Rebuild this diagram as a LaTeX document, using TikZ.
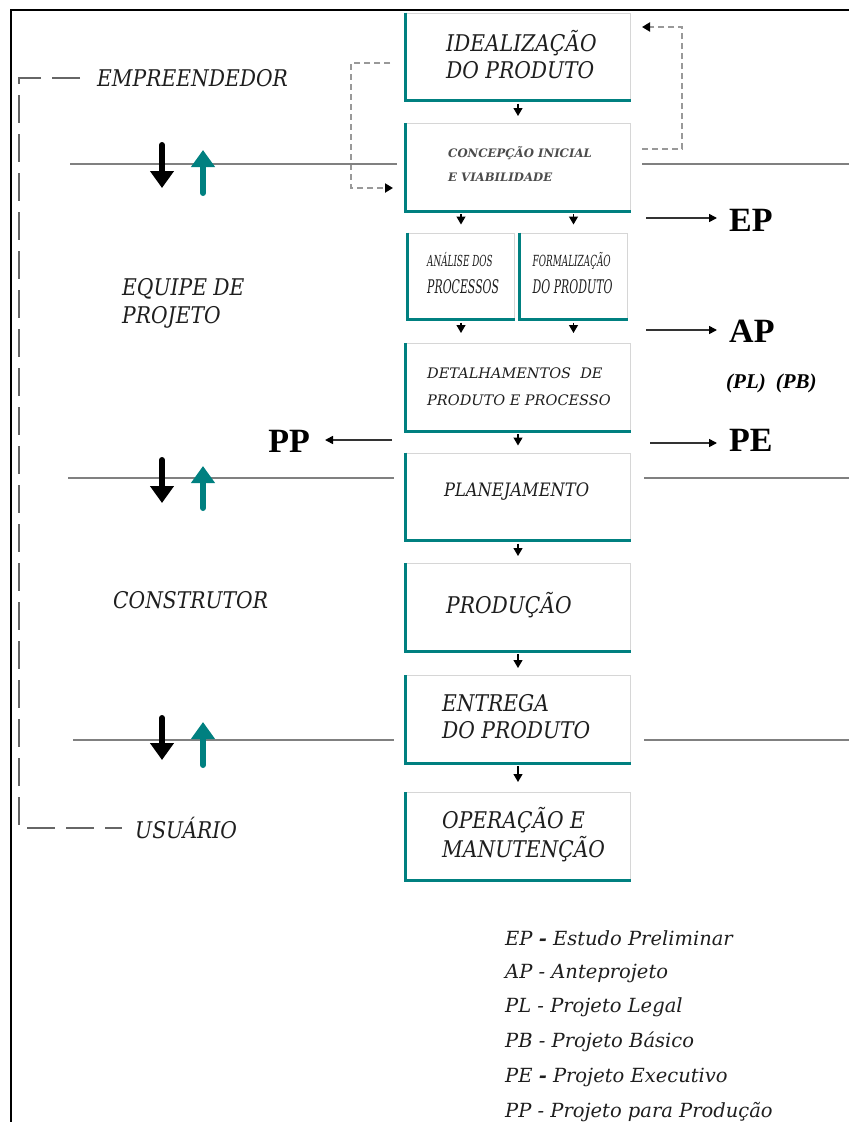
\documentclass[tikz,border=0pt]{standalone}
\usepackage{fontspec}
\usetikzlibrary{arrows.meta,calc}
\newfontfamily\slab[FakeStretch=0.88]{DejaVu Serif}
\newfontfamily\slabw{DejaVu Serif}
\newfontfamily\slabn[FakeStretch=0.58]{DejaVu Serif}
\newfontfamily\tnr{Liberation Serif}
\definecolor{tealc}{RGB}{0,128,128}
\definecolor{boxgray}{RGB}{214,214,214}
\definecolor{txt}{RGB}{30,30,30}
\begin{document}
\begin{tikzpicture}[x=1pt,y=-1pt,
  box/.style={draw=boxgray, line width=1pt, fill=white, inner sep=0pt},
  mainbox/.style={box, minimum width=225pt, minimum height=87pt},
  subbox/.style={box, minimum width=107pt, minimum height=86pt},
  boxtext/.style={inner sep=0pt, anchor=west, align=left, text=txt},
  bigtxt/.style={boxtext, font=\slab\itshape\fontsize{23}{27}\selectfont},
  lbl/.style={inner sep=0pt, text=txt, font=\slab\itshape\fontsize{23}{28}\selectfont, align=left},
  doc/.style={inner sep=0pt, text=black, font=\tnr\bfseries\fontsize{34}{36}\selectfont},
  legend/.style={inner sep=0pt, anchor=west, text=txt, font=\slabw\itshape\fontsize{19.5}{22}\selectfont},
  tealedge/.style={draw=tealc, line width=3pt},
  flow/.style={line width=1.2pt, shorten <=3pt, -{Triangle[width=9pt,length=8pt]}},
  thinarr/.style={draw=black!80, line width=1.6pt, -{Triangle[width=8pt,length=8pt,color=black]}},
  rail/.style={draw=black!50, line width=2.5pt},
  bigdown/.style={draw=black, line width=6pt, line cap=round, -{Triangle[width=23pt,length=17pt]}},
  bigup/.style={draw=tealc, line width=6pt, line cap=round, -{Triangle[width=23pt,length=17pt]}},
  fb/.style={draw=black!40, line width=2pt, dash pattern=on 6pt off 4pt, -{Triangle[width=9pt,length=8pt,color=black]}},
  bracket/.style={draw=black!60, line width=1.6pt, dash pattern=on 28pt off 11pt}]
\useasboundingbox (0,0) rectangle (849,1122);

% frame
\draw[line width=2.5pt] (11,1122) -- (11,10) -- (849,10);

% process boxes
\node[mainbox] (b1) at (518,56.5) {};
\node[mainbox] (b2) at (518,167) {};
\node[subbox] (ana) at (461,276) {};
\node[subbox] (form) at (573.5,276) {};
\node[mainbox] (det) at (518,387) {};
\node[mainbox] (plan) at (518,496.5) {};
\node[mainbox] (prod) at (518,607) {};
\node[mainbox] (ent) at (518,719) {};
\node[mainbox] (oper) at (518,836) {};

\foreach \n in {b1,b2,ana,form,det,plan,prod,ent,oper}
  \draw[tealedge] (\n.north west) -- (\n.south west) -- (\n.south east);

% box captions
\node[bigtxt] (b1t) at ($(b1.west)+(41,-1.5)$) {IDEALIZAÇÃO\\DO PRODUTO};
\node[boxtext, text=black!70, font=\slabw\bfseries\itshape\fontsize{11.7}{24}\selectfont] (b2t) at ($(b2.west)+(43,-3)$) {CONCEPÇÃO INICIAL\\E VIABILIDADE};
\node[boxtext, font=\slabn\itshape\fontsize{18.8}{27}\selectfont] (anat) at ($(ana.west)+(20,-2.5)$) {{\fontsize{15.2}{27}\selectfont ANÁLISE DOS}\\PROCESSOS};
\node[boxtext, font=\slabn\itshape\fontsize{18.8}{27}\selectfont] (formt) at ($(form.west)+(13,-2.5)$) {{\fontsize{15.3}{27}\selectfont FORMALIZAÇÃO}\\DO PRODUTO};
\node[boxtext, font=\slabw\itshape\fontsize{14.5}{27}\selectfont] (dett) at ($(det.west)+(22,-0.5)$) {DETALHAMENTOS\ \ DE\\PRODUTO E PROCESSO};
\node[boxtext, font=\slab\itshape\fontsize{18.5}{22}\selectfont] (plant) at ($(plan.west)+(39,-4.5)$) {PLANEJAMENTO};
\node[bigtxt] (prodt) at ($(prod.west)+(41,-2)$) {PRODUÇÃO};
\node[bigtxt] (entt) at ($(ent.west)+(37,-2.5)$) {ENTREGA\\DO PRODUTO};
\node[bigtxt, font=\slab\itshape\fontsize{23}{29}\selectfont] (opert) at ($(oper.west)+(37,-1)$) {OPERAÇÃO E\\MANUTENÇÃO};

% flow between boxes
\draw[flow, shorten >=7pt] (b1) -- (b2);
\draw[flow, shorten >=8pt] (b2.south -| ana) -- (ana);
\draw[flow, shorten >=8pt] (b2.south -| form) -- (form);
\draw[flow, shorten >=10pt] (ana) -- (ana |- det.north);
\draw[flow, shorten >=10pt] (form) -- (form |- det.north);
\draw[flow, shorten >=7pt] (det) -- (plan);
\draw[flow, shorten >=7pt] (plan) -- (prod);
\draw[flow, shorten >=7pt] (prod) -- (ent);
\draw[flow, shorten >=10pt] (ent) -- (oper);

% feedback loops
\draw[fb] ($(b1.west)+(-15,6.5)$) -- ++(-39,0) |- ($(b2.west)+(-12,21)$);
\draw[fb] ($(b2.east)+(11,-18)$) -- ++(40,0) |- ($(b1.east)+(11,-29.5)$);

% horizontal rails
\coordinate (l1) at (70,164);  \coordinate (r1) at (849,164);
\coordinate (l2) at (68,478);  \coordinate (r2) at (849,478);
\coordinate (l3) at (73,740);  \coordinate (r3) at (849,740);
\draw[rail, shorten >=8pt] (l1) -- (l1 -| b2.west);
\draw[rail, shorten <=11pt] (r1 -| b2.east) -- (r1);
\draw[rail, shorten >=11pt] (l2) -- (l2 -| plan.west);
\draw[rail, shorten <=13pt] (r2 -| plan.east) -- (r2);
\draw[rail, shorten >=11pt] (l3) -- (l3 -| ent.west);
\draw[rail, shorten <=13pt] (r3 -| ent.east) -- (r3);

% exchange arrows on the rails
\foreach \ya/\yb/\yc/\yd in {145/188/193/150, 460/503/508/466, 718/760/765/722} {
  \draw[bigdown] (162,\ya) -- (162,\yb);
  \draw[bigup] (203,\yc) -- (203,\yd);
}

% side labels
\node[lbl, anchor=west] (emp) at (97,78) {EMPREENDEDOR};
\node[lbl, anchor=west] (eq) at (122,303) {EQUIPE DE\\PROJETO};
\node[lbl, anchor=west] (con) at (113,600) {CONSTRUTOR};
\node[lbl, anchor=west] (usu) at (135,828) {USUÁRIO};
\draw[bracket] ($(emp.west)+(-17,0)$) -| ($(usu.west)+(-116,0)$) -- ($(usu.west)+(-13,0)$);

% project documents
\node[doc, anchor=west] (ep) at (729,220) {EP};
\node[doc, anchor=west] (ap) at (729,331) {AP};
\node[inner sep=0pt, anchor=west, font=\tnr\bfseries\itshape\fontsize{21}{24}\selectfont] (plpb) at (726,383) {(PL)\hspace{10pt}(PB)};
\node[doc, anchor=west] (pe) at (729,440) {PE};
\node[doc, anchor=east] (pp) at (310,441) {PP};
\coordinate (epS) at (646,218);
\coordinate (apS) at (646,330);
\coordinate (peS) at (650,443);
\coordinate (ppS) at (392,440);
\draw[thinarr, shorten >=12pt] (epS) -- (epS -| ep.west);
\draw[thinarr, shorten >=12pt] (apS) -- (apS -| ap.west);
\draw[thinarr, shorten >=12pt] (peS) -- (peS -| pe.west);
\draw[thinarr, shorten >=15pt] (ppS) -- (ppS -| pp.east);

% legend
\node[legend] (k1) at (505,938) {EP {\bfseries -} Estudo Preliminar};
\node[legend] (k2) at (505,973) {AP - Anteprojeto};
\node[legend] (k3) at (505,1007) {PL - Projeto Legal};
\node[legend] (k4) at (505,1042) {PB - Projeto Básico};
\node[legend] (k5) at (505,1077) {PE {\bfseries -} Projeto Executivo};
\node[legend] (k6) at (505,1112) {PP - Projeto para Produção};
\end{tikzpicture}
\end{document}
